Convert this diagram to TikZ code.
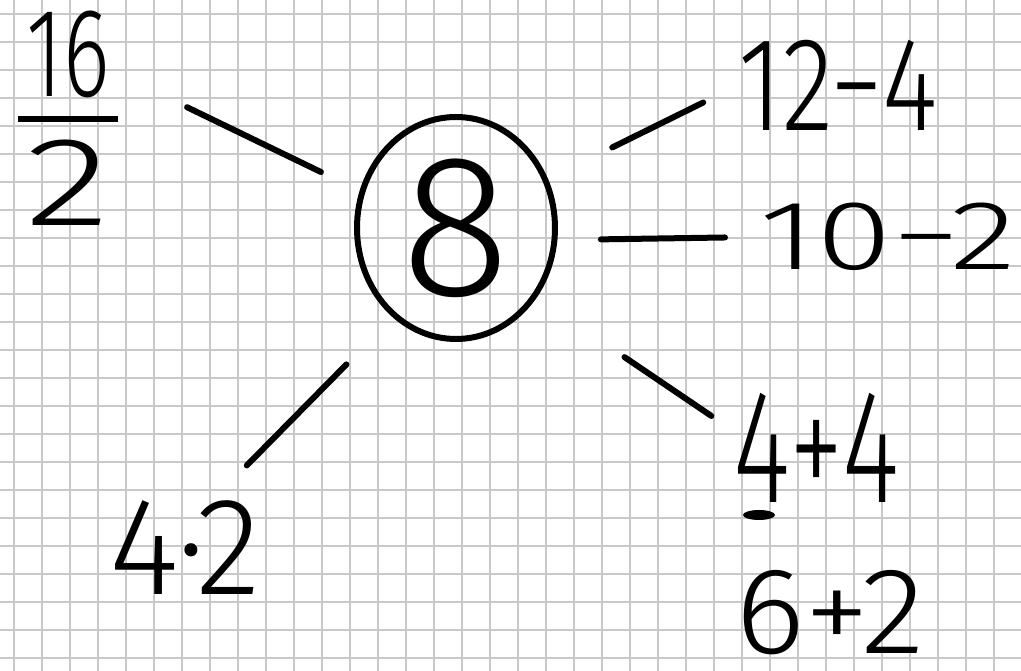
\documentclass[tikz,border=0pt]{standalone}
\usepackage{amsmath}
\usepackage{graphicx}
\usepackage{fontspec}
\setmainfont{Fira Sans Light}
\usetikzlibrary{shapes.geometric}
\definecolor{gridgray}{RGB}{200,200,200}

\begin{document}
\begin{tikzpicture}[x=0.2mm, y=-0.2mm,
        gridline/.style={draw=gridgray, line width=0.3mm},
        hub/.style={ellipse, draw, line width=1.2mm, inner sep=0pt, outer sep=0pt, minimum width=39.6mm, minimum height=44.4mm, font=\fontsize{115}{120}\selectfont},
        expr/.style={rectangle, inner sep=0pt, outer sep=0pt, align=center},
        spoke/.style={line width=1.2mm, line cap=round}
    ]
        \fill[white] (0,0) rectangle (1021,671);
        \useasboundingbox (0,0) rectangle (1021,671);
        % squared paper
        \foreach \k in {0,...,36}
            \draw[gridline] (14+28*\k,0) -- (14+28*\k,671);
        \foreach \k in {0,...,23}
            \draw[gridline] (0,14+28*\k) -- (1021,14+28*\k);

        \node[hub] (eight) at (456,228) {8};
        \node[expr, minimum width=22.6mm, minimum height=40.4mm, font=\fontsize{72}{76}\selectfont] (frac16) at (68,118)
            {$\genfrac{}{}{1.2mm}{0}{\text{\raisebox{-1.2mm}{\scalebox{0.7}[1]{16}}}}{\text{\makebox[20mm]{\scalebox{1.4}[1]{2}}}}$};
        \node[expr, minimum width=39mm, minimum height=20.8mm, font=\fontsize{76}{80}\selectfont] (diff124) at (838,85) {\scalebox{0.8}[1]{12−4}};
        \node[expr, minimum width=52.4mm, minimum height=13.2mm, font=\fontsize{56}{60}\selectfont] (diff102) at (888,237) {\scalebox{1.4}[1]{10−2}};
        \node[expr, minimum width=33.4mm, minimum height=23mm, font=\fontsize{92}{96}\selectfont] (sum44) at (816,448) {\scalebox{0.68}[1]{4+4}};
        \node[expr, minimum width=38mm, minimum height=18mm, font=\fontsize{70}{74}\selectfont] (sum62) at (830,613) {\scalebox{1.08}[1]{6+2}};
        \node[expr, minimum width=31mm, minimum height=19.2mm, font=\fontsize{79}{83}\selectfont] (prod42) at (185,548) {\scalebox{0.97}[1]{4·2}};

        \draw[spoke, shorten <=9.2mm, shorten >=13.9mm] (eight.159) -- (frac16.36);
        \draw[spoke, shorten <=14.9mm, shorten >=7.9mm] (eight.28) -- (diff124.west);
        \draw[spoke, shorten <=9.3mm, shorten >=6.4mm] (eight.-7) -- (diff102.west);
        \draw[spoke, shorten <=21.8mm, shorten >=5.1mm] (eight.-41) -- (sum44.168);
        \draw[spoke, shorten <=13.8mm, shorten >=9.7mm] (eight.-125) -- (prod42.60);

        % stray mark under the first 4
        \fill (759,515) ellipse [x radius=3.2mm, y radius=1mm];
    \end{tikzpicture}
\end{document}
